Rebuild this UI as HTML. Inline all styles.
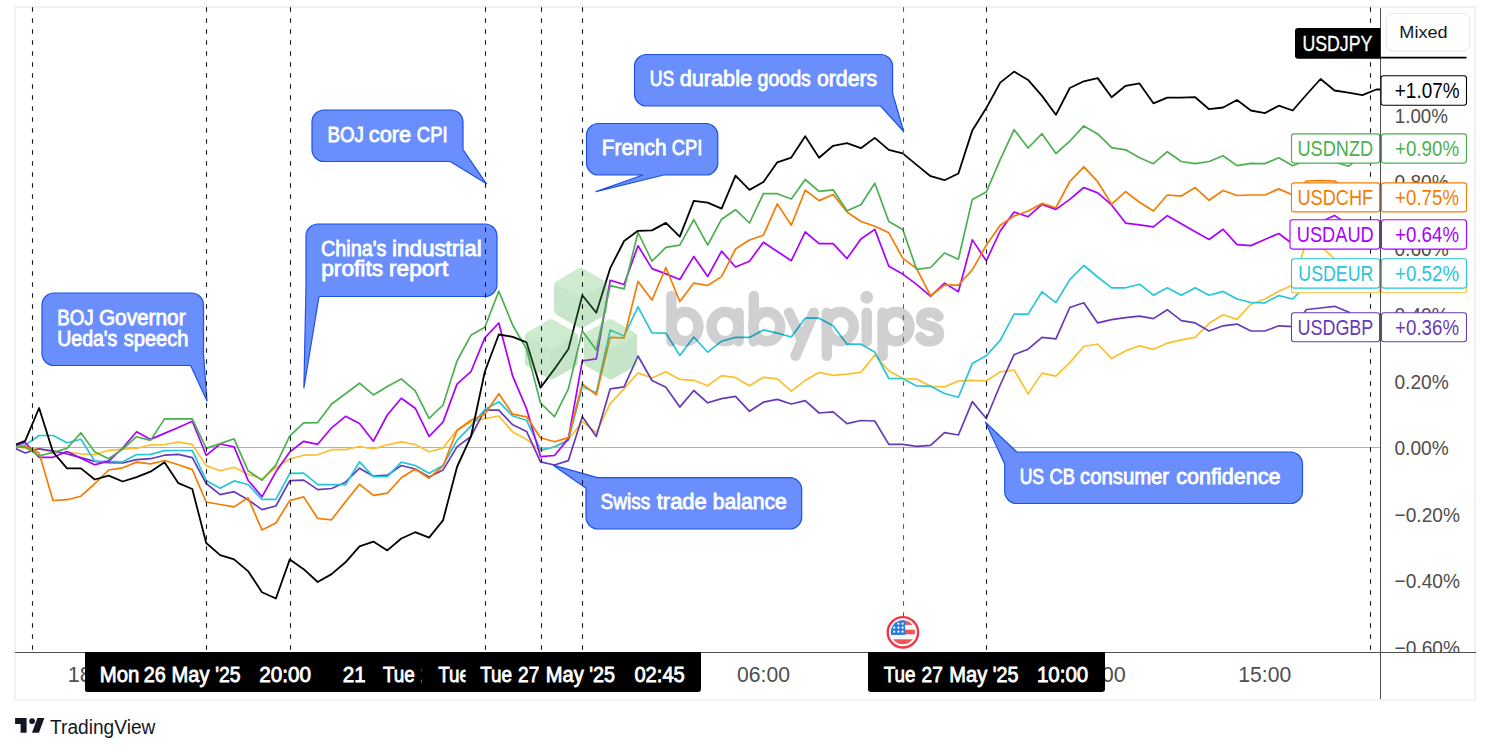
<!DOCTYPE html><html><head><meta charset="utf-8"><style>html,body{margin:0;padding:0;background:#fff;width:1491px;height:753px;overflow:hidden}svg{display:block}text{font-family:"Liberation Sans",sans-serif}</style></head><body>
<svg width="1491" height="753" viewBox="0 0 1491 753">
<defs><clipPath id="pane"><rect x="16" y="8" width="1364" height="644"/></clipPath><clipPath id="c2"><rect x="0" y="0" width="365.5" height="753"/></clipPath><clipPath id="c3"><rect x="0" y="0" width="421.6" height="753"/></clipPath><clipPath id="c4"><rect x="0" y="0" width="465.5" height="753"/></clipPath><clipPath id="c60"><rect x="1381" y="600" width="95" height="52"/></clipPath></defs>
<rect x="14" y="6" width="1462" height="695" fill="#f2f2f2"/>
<rect x="16" y="8" width="1458" height="691" fill="#ffffff"/>
<line x1="16" y1="447.5" x2="1380" y2="447.5" stroke="#aeb1c2" stroke-width="1"/>
<g clip-path="url(#pane)" fill="none" stroke-linejoin="round" stroke-linecap="round">
<polyline points="11.2,446.5 25.2,447.8 39.1,448.8 53.0,452.8 67.0,452.0 80.9,453.8 94.8,454.6 108.7,450.3 122.7,449.1 136.6,448.5 150.5,444.8 164.5,444.5 178.4,442.2 192.3,444.4 206.2,465.6 220.2,470.8 234.1,467.3 248.0,474.2 262.0,479.0 275.9,467.5 289.8,459.0 303.7,455.2 317.7,454.8 331.6,449.7 345.5,449.7 359.5,446.5 373.4,449.0 387.3,444.8 401.3,441.8 415.2,444.5 429.1,451.8 443.0,448.0 457.0,430.0 470.9,422.1 484.8,418.7 498.8,416.0 512.7,432.0 526.6,439.4 540.5,451.3 554.5,446.6 568.4,439.6 582.3,421.7 596.3,432.6 610.2,403.7 624.1,388.8 638.0,372.9 652.0,378.0 665.9,371.8 679.8,379.4 693.8,380.3 707.7,385.8 721.6,375.6 735.5,377.7 749.5,385.8 763.4,377.3 777.3,378.8 791.3,391.2 805.2,380.3 819.1,372.4 833.1,375.3 847.0,374.2 860.9,372.4 874.8,355.0 888.8,370.8 902.7,378.5 916.6,379.1 930.6,386.3 944.5,386.8 958.4,381.1 972.3,380.3 986.3,381.0 1000.2,371.9 1014.1,370.0 1028.1,393.9 1042.0,373.1 1055.9,376.2 1069.8,362.6 1083.8,346.5 1097.7,344.0 1111.6,358.6 1125.6,350.9 1139.5,345.8 1153.4,349.4 1167.3,343.1 1181.3,339.9 1195.2,337.3 1209.1,323.3 1223.1,314.8 1237.0,319.4 1250.9,304.2 1264.9,299.0 1278.8,291.3 1292.7,284.9 1306.6,241.0 1320.6,246.0 1334.5,259.0 1348.4,268.0 1362.4,274.0 1376.3,278.0 1390.0,278.0" stroke="#fbc02d" stroke-width="1.7"/>
<polyline points="11.2,446.5 25.2,453.0 39.1,448.8 53.0,450.8 67.0,454.0 80.9,457.6 94.8,461.4 108.7,462.6 122.7,463.0 136.6,459.6 150.5,458.7 164.5,455.2 178.4,454.4 192.3,457.6 206.2,483.5 220.2,494.6 234.1,491.7 248.0,499.7 262.0,509.6 275.9,506.0 289.8,480.6 303.7,480.1 317.7,489.6 331.6,488.5 345.5,482.2 359.5,468.2 373.4,476.2 387.3,475.2 401.3,465.5 415.2,469.0 429.1,477.0 443.0,470.1 457.0,446.9 470.9,436.5 484.8,410.2 498.8,410.2 512.7,424.8 526.6,431.4 540.5,461.8 554.5,465.0 568.4,460.6 582.3,416.7 596.3,436.6 610.2,388.8 624.1,386.8 638.0,356.0 652.0,380.5 665.9,387.3 679.8,407.1 693.8,390.5 707.7,402.8 721.6,398.6 735.5,396.4 749.5,411.3 763.4,402.2 777.3,399.4 791.3,404.0 805.2,400.6 819.1,413.0 833.1,411.9 847.0,423.6 860.9,420.5 874.8,421.0 888.8,444.4 902.7,444.4 916.6,446.3 930.6,445.4 944.5,432.6 958.4,435.0 972.3,401.6 986.3,418.5 1000.2,385.0 1014.1,354.7 1028.1,349.2 1042.0,337.3 1055.9,338.9 1069.8,307.5 1083.8,302.7 1097.7,322.9 1111.6,319.7 1125.6,317.6 1139.5,316.1 1153.4,318.6 1167.3,309.7 1181.3,320.7 1195.2,322.9 1209.1,331.0 1223.1,325.8 1237.0,324.1 1250.9,331.0 1264.9,331.0 1278.8,325.8 1292.7,326.6 1306.6,309.5 1320.6,308.0 1334.5,306.3 1348.4,312.0 1362.4,322.0 1376.3,326.8 1390.0,326.8" stroke="#673ab7" stroke-width="1.7"/>
<polyline points="11.2,446.5 25.2,445.0 39.1,435.5 53.0,435.5 67.0,442.8 80.9,439.2 94.8,461.3 108.7,461.3 122.7,461.8 136.6,454.6 150.5,454.4 164.5,450.6 178.4,450.5 192.3,450.7 206.2,480.4 220.2,488.2 234.1,480.9 248.0,484.5 262.0,499.4 275.9,499.4 289.8,473.4 303.7,473.2 317.7,484.7 331.6,484.7 345.5,484.7 359.5,461.8 373.4,476.6 387.3,476.6 401.3,462.2 415.2,465.5 429.1,473.2 443.0,465.5 457.0,440.3 470.9,426.1 484.8,409.6 498.8,401.7 512.7,416.0 526.6,420.3 540.5,449.8 554.5,447.0 568.4,440.6 582.3,386.8 596.3,392.8 610.2,330.0 624.1,336.0 638.0,306.8 652.0,333.0 665.9,333.2 679.8,355.4 693.8,337.0 707.7,352.2 721.6,341.2 735.5,337.4 749.5,337.4 763.4,329.9 777.3,333.1 791.3,337.0 805.2,318.2 819.1,318.2 833.1,325.7 847.0,344.2 860.9,344.2 874.8,352.1 888.8,378.5 902.7,378.5 916.6,386.0 930.6,386.2 944.5,393.5 958.4,397.3 972.3,363.6 986.3,355.7 1000.2,340.4 1014.1,314.1 1028.1,314.1 1042.0,291.8 1055.9,302.6 1069.8,279.6 1083.8,265.5 1097.7,277.0 1111.6,287.8 1125.6,287.8 1139.5,284.2 1153.4,295.2 1167.3,287.8 1181.3,295.2 1195.2,287.8 1209.1,295.2 1223.1,291.4 1237.0,299.0 1250.9,302.5 1264.9,302.8 1278.8,295.6 1292.7,299.0 1306.6,285.0 1320.6,280.0 1334.5,276.0 1348.4,275.0 1362.4,274.0 1376.3,273.6 1390.0,273.6" stroke="#26c6da" stroke-width="1.7"/>
<polyline points="11.2,446.5 25.2,442.5 39.1,457.3 53.0,457.3 67.0,451.5 80.9,458.2 94.8,464.7 108.7,461.1 122.7,448.0 136.6,431.8 150.5,439.4 164.5,433.4 178.4,427.5 192.3,421.3 206.2,455.3 220.2,444.0 234.1,446.8 248.0,480.2 262.0,496.8 275.9,471.8 289.8,451.9 303.7,441.3 317.7,444.3 331.6,427.8 345.5,416.3 359.5,423.5 373.4,441.2 387.3,415.0 401.3,398.3 415.2,408.2 429.1,436.3 443.0,422.1 457.0,384.1 470.9,371.7 484.8,337.9 498.8,323.0 512.7,376.2 526.6,408.9 540.5,456.6 554.5,455.5 568.4,438.6 582.3,360.9 596.3,358.9 610.2,280.3 624.1,284.5 638.0,245.7 652.0,268.6 665.9,273.9 679.8,279.5 693.8,256.4 707.7,276.6 721.6,251.1 735.5,267.0 749.5,261.3 763.4,242.2 777.3,251.5 791.3,260.7 805.2,232.0 819.1,243.7 833.1,243.7 847.0,258.6 860.9,239.0 874.8,229.4 888.8,266.2 902.7,274.1 916.6,284.4 930.6,296.3 944.5,283.1 958.4,291.7 972.3,239.9 986.3,260.8 1000.2,231.0 1014.1,212.0 1028.1,216.7 1042.0,204.4 1055.9,209.4 1069.8,199.4 1083.8,187.5 1097.7,192.9 1111.6,204.9 1125.6,223.1 1139.5,224.9 1153.4,226.8 1167.3,215.7 1181.3,223.7 1195.2,231.7 1209.1,239.5 1223.1,229.3 1237.0,244.6 1250.9,245.6 1264.9,239.5 1278.8,233.5 1292.7,244.0 1306.6,230.0 1320.6,222.0 1334.5,215.4 1348.4,225.0 1362.4,232.0 1376.3,233.7 1390.0,233.7" stroke="#aa00ff" stroke-width="1.7"/>
<polyline points="11.2,446.5 25.2,446.0 39.1,453.0 53.0,500.5 67.0,499.7 80.9,496.2 94.8,483.7 108.7,470.0 122.7,467.8 136.6,462.1 150.5,463.8 164.5,460.5 178.4,464.7 192.3,469.6 206.2,502.0 220.2,504.5 234.1,506.9 248.0,497.8 262.0,530.0 275.9,523.0 289.8,500.5 303.7,496.9 317.7,518.5 331.6,519.8 345.5,501.7 359.5,484.3 373.4,495.3 387.3,493.2 401.3,477.8 415.2,469.0 429.1,478.2 443.0,466.0 457.0,430.5 470.9,420.3 484.8,414.2 498.8,393.7 512.7,414.2 526.6,416.8 540.5,437.8 554.5,441.8 568.4,437.6 582.3,383.8 596.3,394.8 610.2,337.3 624.1,337.8 638.0,281.4 652.0,300.0 665.9,267.5 679.8,301.5 693.8,283.1 707.7,285.5 721.6,276.6 735.5,249.0 749.5,240.0 763.4,235.2 777.3,203.9 791.3,225.2 805.2,190.2 819.1,200.6 833.1,194.5 847.0,212.0 860.9,221.5 874.8,226.3 888.8,232.8 902.7,258.1 916.6,268.6 930.6,295.9 944.5,285.0 958.4,285.1 972.3,269.8 986.3,245.2 1000.2,225.3 1014.1,216.0 1028.1,211.0 1042.0,203.4 1055.9,207.7 1069.8,181.5 1083.8,166.8 1097.7,181.7 1111.6,204.1 1125.6,191.6 1139.5,202.2 1153.4,211.0 1167.3,195.0 1181.3,196.1 1195.2,187.6 1209.1,200.3 1223.1,190.5 1237.0,195.5 1250.9,195.0 1264.9,195.0 1278.8,188.9 1292.7,195.0 1306.6,181.0 1320.6,180.5 1334.5,181.0 1348.4,190.0 1362.4,195.0 1376.3,197.1 1390.0,197.1" stroke="#f57c00" stroke-width="1.7"/>
<polyline points="11.2,446.5 25.2,447.3 39.1,455.8 53.0,452.5 67.0,448.4 80.9,432.8 94.8,452.0 108.7,458.8 122.7,449.0 136.6,436.7 150.5,440.4 164.5,418.9 178.4,418.9 192.3,418.9 206.2,448.4 220.2,443.6 234.1,438.8 248.0,470.7 262.0,480.2 275.9,464.9 289.8,435.9 303.7,422.8 317.7,422.6 331.6,404.0 345.5,393.8 359.5,383.2 373.4,394.9 387.3,386.6 401.3,378.9 415.2,390.8 429.1,418.3 443.0,405.0 457.0,361.0 470.9,335.3 484.8,327.3 498.8,291.2 512.7,325.2 526.6,349.1 540.5,403.0 554.5,416.7 568.4,388.8 582.3,331.0 596.3,350.0 610.2,285.6 624.1,288.8 638.0,232.5 652.0,261.2 665.9,247.4 679.8,245.2 693.8,219.7 707.7,245.1 721.6,219.2 735.5,209.7 749.5,223.0 763.4,193.7 777.3,193.7 791.3,199.0 805.2,179.5 819.1,191.4 833.1,189.8 847.0,210.8 860.9,204.8 874.8,183.3 888.8,221.5 902.7,229.4 916.6,269.3 930.6,267.5 944.5,253.0 958.4,259.2 972.3,199.4 986.3,192.1 1000.2,159.6 1014.1,129.7 1028.1,148.0 1042.0,133.7 1055.9,153.6 1069.8,141.2 1083.8,125.9 1097.7,133.9 1111.6,147.7 1125.6,149.8 1139.5,157.8 1153.4,163.7 1167.3,151.7 1181.3,161.5 1195.2,163.7 1209.1,161.5 1223.1,155.7 1237.0,165.6 1250.9,163.4 1264.9,163.6 1278.8,157.8 1292.7,165.7 1306.6,160.0 1320.6,160.0 1334.5,162.0 1348.4,166.3 1362.4,155.0 1376.3,147.3 1390.0,147.3" stroke="#4caf50" stroke-width="1.7"/>
<polyline points="11.2,446.5 25.2,440.9 39.1,408.0 53.0,452.0 67.0,468.4 80.9,468.4 94.8,479.5 108.7,475.6 122.7,481.5 136.6,477.1 150.5,471.7 164.5,462.3 178.4,483.2 192.3,489.0 206.2,543.0 220.2,555.1 234.1,559.4 248.0,571.1 262.0,592.3 275.9,598.5 289.8,559.4 303.7,569.2 317.7,582.0 331.6,574.1 345.5,562.3 359.5,546.3 373.4,541.6 387.3,550.4 401.3,538.5 415.2,532.2 429.1,537.6 443.0,520.4 457.0,467.0 470.9,436.7 484.8,371.7 498.8,334.5 512.7,336.8 526.6,342.4 540.5,387.7 554.5,368.9 568.4,349.1 582.3,295.2 596.3,312.8 610.2,268.2 624.1,241.0 638.0,230.8 652.0,230.4 665.9,222.9 679.8,236.7 693.8,200.9 707.7,202.7 721.6,208.6 735.5,175.7 749.5,189.9 763.4,182.0 777.3,162.3 791.3,157.6 805.2,136.3 819.1,157.7 833.1,145.8 847.0,143.2 860.9,148.2 874.8,137.9 888.8,149.9 902.7,153.4 916.6,164.9 930.6,176.2 944.5,180.2 958.4,173.5 972.3,130.4 986.3,108.1 1000.2,82.6 1014.1,71.6 1028.1,79.9 1042.0,95.9 1055.9,114.8 1069.8,88.0 1083.8,81.3 1097.7,78.1 1111.6,97.2 1125.6,85.8 1139.5,83.4 1153.4,103.3 1167.3,97.7 1181.3,97.7 1195.2,97.2 1209.1,109.2 1223.1,107.5 1237.0,100.0 1250.9,110.5 1264.9,113.1 1278.8,105.7 1292.7,110.5 1306.6,94.5 1320.6,79.0 1334.5,90.5 1348.4,92.7 1362.4,95.1 1376.3,89.5 1390.0,89.5" stroke="#000000" stroke-width="1.8"/>
</g>
<g opacity="0.3"><clipPath id="hx1"><path d="M578.20,268.84 A5.00,5.00 0 0 1 583.20,268.84 L604.87,281.36 A5.00,5.00 0 0 1 607.37,285.69 L607.37,310.71 A5.00,5.00 0 0 1 604.87,315.04 L583.20,327.56 A5.00,5.00 0 0 1 578.20,327.56 L556.53,315.04 A5.00,5.00 0 0 1 554.03,310.71 L554.03,285.69 A5.00,5.00 0 0 1 556.53,281.36 Z"/></clipPath><g clip-path="url(#hx1)"><path d="M578.20,268.84 A5.00,5.00 0 0 1 583.20,268.84 L604.87,281.36 A5.00,5.00 0 0 1 607.37,285.69 L607.37,310.71 A5.00,5.00 0 0 1 604.87,315.04 L583.20,327.56 A5.00,5.00 0 0 1 578.20,327.56 L556.53,315.04 A5.00,5.00 0 0 1 554.03,310.71 L554.03,285.69 A5.00,5.00 0 0 1 556.53,281.36 Z" fill="#4caf50"/><polygon points="580.7,236.6 634.0,267.4 580.7,298.2 527.4,267.4" fill="#60bf63"/><polygon points="580.7,298.2 634.0,267.4 634.0,329.0 580.7,359.8" fill="#46a84a"/></g><clipPath id="hx2"><path d="M548.70,320.04 A5.00,5.00 0 0 1 553.70,320.04 L575.37,332.56 A5.00,5.00 0 0 1 577.87,336.89 L577.87,361.91 A5.00,5.00 0 0 1 575.37,366.24 L553.70,378.76 A5.00,5.00 0 0 1 548.70,378.76 L527.03,366.24 A5.00,5.00 0 0 1 524.53,361.91 L524.53,336.89 A5.00,5.00 0 0 1 527.03,332.56 Z"/></clipPath><g clip-path="url(#hx2)"><path d="M548.70,320.04 A5.00,5.00 0 0 1 553.70,320.04 L575.37,332.56 A5.00,5.00 0 0 1 577.87,336.89 L577.87,361.91 A5.00,5.00 0 0 1 575.37,366.24 L553.70,378.76 A5.00,5.00 0 0 1 548.70,378.76 L527.03,366.24 A5.00,5.00 0 0 1 524.53,361.91 L524.53,336.89 A5.00,5.00 0 0 1 527.03,332.56 Z" fill="#4caf50"/><polygon points="551.2,287.8 604.5,318.6 551.2,349.4 497.9,318.6" fill="#60bf63"/><polygon points="551.2,349.4 604.5,318.6 604.5,380.2 551.2,411.0" fill="#46a84a"/></g><clipPath id="hx3"><path d="M607.90,320.04 A5.00,5.00 0 0 1 612.90,320.04 L634.57,332.56 A5.00,5.00 0 0 1 637.07,336.89 L637.07,361.91 A5.00,5.00 0 0 1 634.57,366.24 L612.90,378.76 A5.00,5.00 0 0 1 607.90,378.76 L586.23,366.24 A5.00,5.00 0 0 1 583.73,361.91 L583.73,336.89 A5.00,5.00 0 0 1 586.23,332.56 Z"/></clipPath><g clip-path="url(#hx3)"><path d="M607.90,320.04 A5.00,5.00 0 0 1 612.90,320.04 L634.57,332.56 A5.00,5.00 0 0 1 637.07,336.89 L637.07,361.91 A5.00,5.00 0 0 1 634.57,366.24 L612.90,378.76 A5.00,5.00 0 0 1 607.90,378.76 L586.23,366.24 A5.00,5.00 0 0 1 583.73,361.91 L583.73,336.89 A5.00,5.00 0 0 1 586.23,332.56 Z" fill="#4caf50"/><polygon points="610.4,287.8 663.7,318.6 610.4,349.4 557.1,318.6" fill="#60bf63"/><polygon points="610.4,349.4 663.7,318.6 663.7,380.2 610.4,411.0" fill="#46a84a"/></g></g>
<g opacity="0.18" stroke="#000010" stroke-width="10.4" stroke-linecap="round" fill="none"><path d="M671.4,296 V341.3 M738.6,312.6 V341.3 M753.8,296 V341.3 M789,312.6 L801,338 M813.8,312.6 L795.5,355.7 M826.8,312.6 V355.7 M866.7,312.6 V341.3 M882.6,312.6 V355.7 M938.5,316.5 C936.5,313.5 933,312.5 929.5,312.5 C924.5,312.5 921,315 921,319 C921,323.5 925,325 930,326 C935,327 939,329 939,334 C939,338.5 935,341.4 929.5,341.4 C925,341.4 922,339.5 920.5,337"/><ellipse cx="685" cy="326.6" rx="13.5" ry="14.7"/><ellipse cx="725" cy="326.6" rx="13.5" ry="14.7"/><ellipse cx="766.8" cy="326.6" rx="13.5" ry="14.7"/><ellipse cx="840.3" cy="326.6" rx="13.5" ry="14.7"/><ellipse cx="896" cy="326.6" rx="13.5" ry="14.7"/><circle cx="866.7" cy="297.2" r="6.4" fill="#000010" stroke="none"/></g>
<path d="M54,293 H191.5 A12,12 0 0 1 203.5,305 V354 L207,401 L190.6,365.5 H54 A12,12 0 0 1 42,353.5 V305 A12,12 0 0 1 54,293 Z" fill="#6a8ffd" stroke="#1c52e6" stroke-width="1.2" stroke-linejoin="round"/>
<text x="57.22" y="324.60" font-size="21.3" fill="#ffffff" stroke="#ffffff" stroke-width="0.8" textLength="36.43" lengthAdjust="spacingAndGlyphs">BOJ</text>
<text x="98.92" y="324.60" font-size="21.3" fill="#ffffff" stroke="#ffffff" stroke-width="0.8" textLength="86.66" lengthAdjust="spacingAndGlyphs">Governor</text>
<text x="57.18" y="345.80" font-size="21.3" fill="#ffffff" stroke="#ffffff" stroke-width="0.8" textLength="60.20" lengthAdjust="spacingAndGlyphs">Ueda's</text>
<text x="123.80" y="345.80" font-size="21.3" fill="#ffffff" stroke="#ffffff" stroke-width="0.8" textLength="64.55" lengthAdjust="spacingAndGlyphs">speech</text>
<path d="M318,224 H485 A12,12 0 0 1 497,236 V284.5 A12,12 0 0 1 485,296.5 H319 L303.9,387.8 L306,285.7 V236 A12,12 0 0 1 318,224 Z" fill="#6a8ffd" stroke="#1c52e6" stroke-width="1.2" stroke-linejoin="round"/>
<text x="321.07" y="255.60" font-size="21.3" fill="#ffffff" stroke="#ffffff" stroke-width="0.8" textLength="65.26" lengthAdjust="spacingAndGlyphs">China's</text>
<text x="391.95" y="255.60" font-size="21.3" fill="#ffffff" stroke="#ffffff" stroke-width="0.8" textLength="89.86" lengthAdjust="spacingAndGlyphs">industrial</text>
<text x="321.23" y="276.40" font-size="21.3" fill="#ffffff" stroke="#ffffff" stroke-width="0.8" textLength="61.87" lengthAdjust="spacingAndGlyphs">profits</text>
<text x="389.04" y="276.40" font-size="21.3" fill="#ffffff" stroke="#ffffff" stroke-width="0.8" textLength="59.18" lengthAdjust="spacingAndGlyphs">report</text>
<path d="M324,110 H451 A12,12 0 0 1 463,122 V149.6 L486.5,183.8 L450.2,161.5 H324 A12,12 0 0 1 312,149.5 V122 A12,12 0 0 1 324,110 Z" fill="#6a8ffd" stroke="#1c52e6" stroke-width="1.2" stroke-linejoin="round"/>
<text x="327.42" y="142.00" font-size="21.3" fill="#ffffff" stroke="#ffffff" stroke-width="0.8" textLength="36.54" lengthAdjust="spacingAndGlyphs">BOJ</text>
<text x="368.78" y="142.00" font-size="21.3" fill="#ffffff" stroke="#ffffff" stroke-width="0.8" textLength="42.27" lengthAdjust="spacingAndGlyphs">core</text>
<text x="416.83" y="142.00" font-size="21.3" fill="#ffffff" stroke="#ffffff" stroke-width="0.8" textLength="30.78" lengthAdjust="spacingAndGlyphs">CPI</text>
<path d="M598.5,123.5 H705.8 A12,12 0 0 1 717.8,135.5 V163 A12,12 0 0 1 705.8,175 H663.8 L596,191.6 L642.9,175 H598.5 A12,12 0 0 1 586.5,163 V135.5 A12,12 0 0 1 598.5,123.5 Z" fill="#6a8ffd" stroke="#1c52e6" stroke-width="1.2" stroke-linejoin="round"/>
<text x="601.82" y="155.10" font-size="21.3" fill="#ffffff" stroke="#ffffff" stroke-width="0.8" textLength="64.64" lengthAdjust="spacingAndGlyphs">French</text>
<text x="671.64" y="155.10" font-size="21.3" fill="#ffffff" stroke="#ffffff" stroke-width="0.8" textLength="30.67" lengthAdjust="spacingAndGlyphs">CPI</text>
<path d="M646.5,54.5 H880.6 A12,12 0 0 1 892.6,66.5 V93.3 L903.7,131.5 L880.6,106 H646.5 A12,12 0 0 1 634.5,94 V66.5 A12,12 0 0 1 646.5,54.5 Z" fill="#6a8ffd" stroke="#1c52e6" stroke-width="1.2" stroke-linejoin="round"/>
<text x="649.77" y="85.90" font-size="21.3" fill="#ffffff" stroke="#ffffff" stroke-width="0.8" textLength="24.41" lengthAdjust="spacingAndGlyphs">US</text>
<text x="679.68" y="85.90" font-size="21.3" fill="#ffffff" stroke="#ffffff" stroke-width="0.8" textLength="72.37" lengthAdjust="spacingAndGlyphs">durable</text>
<text x="757.58" y="85.90" font-size="21.3" fill="#ffffff" stroke="#ffffff" stroke-width="0.8" textLength="53.25" lengthAdjust="spacingAndGlyphs">goods</text>
<text x="817.00" y="85.90" font-size="21.3" fill="#ffffff" stroke="#ffffff" stroke-width="0.8" textLength="60.17" lengthAdjust="spacingAndGlyphs">orders</text>
<path d="M597.5,477.6 H789.7 A12,12 0 0 1 801.7,489.6 V517 A12,12 0 0 1 789.7,529 H598 A12,12 0 0 1 586,517 V488.3 L553.2,465.2 Z" fill="#6a8ffd" stroke="#1c52e6" stroke-width="1.2" stroke-linejoin="round"/>
<text x="600.51" y="509.00" font-size="21.3" fill="#ffffff" stroke="#ffffff" stroke-width="0.8" textLength="49.75" lengthAdjust="spacingAndGlyphs">Swiss</text>
<text x="656.70" y="509.00" font-size="21.3" fill="#ffffff" stroke="#ffffff" stroke-width="0.8" textLength="50.17" lengthAdjust="spacingAndGlyphs">trade</text>
<text x="712.71" y="509.00" font-size="21.3" fill="#ffffff" stroke="#ffffff" stroke-width="0.8" textLength="74.00" lengthAdjust="spacingAndGlyphs">balance</text>
<path d="M1016.8,452 H1290.5 A12,12 0 0 1 1302.5,464 V491.5 A12,12 0 0 1 1290.5,503.5 H1016.7 A12,12 0 0 1 1004.7,491.5 V464 L985.4,422.2 Z" fill="#6a8ffd" stroke="#1c52e6" stroke-width="1.2" stroke-linejoin="round"/>
<text x="1019.67" y="483.80" font-size="21.3" fill="#ffffff" stroke="#ffffff" stroke-width="0.8" textLength="24.41" lengthAdjust="spacingAndGlyphs">US</text>
<text x="1049.54" y="483.80" font-size="21.3" fill="#ffffff" stroke="#ffffff" stroke-width="0.8" textLength="25.37" lengthAdjust="spacingAndGlyphs">CB</text>
<text x="1080.05" y="483.80" font-size="21.3" fill="#ffffff" stroke="#ffffff" stroke-width="0.8" textLength="89.09" lengthAdjust="spacingAndGlyphs">consumer</text>
<text x="1176.29" y="483.80" font-size="21.3" fill="#ffffff" stroke="#ffffff" stroke-width="0.8" textLength="104.33" lengthAdjust="spacingAndGlyphs">confidence</text>
<line x1="32.5" y1="7.2" x2="32.5" y2="650" stroke="#131722" stroke-width="1.1" stroke-dasharray="4.6 6.4"/>
<line x1="206.5" y1="7.2" x2="206.5" y2="650" stroke="#131722" stroke-width="1.1" stroke-dasharray="4.6 6.4"/>
<line x1="290.5" y1="7.2" x2="290.5" y2="650" stroke="#131722" stroke-width="1.1" stroke-dasharray="4.6 6.4"/>
<line x1="485.5" y1="7.2" x2="485.5" y2="650" stroke="#131722" stroke-width="1.1" stroke-dasharray="4.6 6.4"/>
<line x1="541.5" y1="7.2" x2="541.5" y2="650" stroke="#131722" stroke-width="1.1" stroke-dasharray="4.6 6.4"/>
<line x1="582.5" y1="7.2" x2="582.5" y2="650" stroke="#131722" stroke-width="1.1" stroke-dasharray="4.6 6.4"/>
<line x1="903.5" y1="7.2" x2="903.5" y2="617" stroke="#5a5a5e" stroke-width="1.1" stroke-dasharray="4.6 6.4"/>
<line x1="986.5" y1="7.2" x2="986.5" y2="650" stroke="#131722" stroke-width="1.1" stroke-dasharray="4.6 6.4"/>
<line x1="1370.5" y1="7.2" x2="1370.5" y2="650" stroke="#131722" stroke-width="1.1" stroke-dasharray="4.6 6.4"/>
<g transform="translate(902.9,632.3)"><circle r="15.2" fill="#ffffff" stroke="#f23645" stroke-width="2.4"/><clipPath id="flagc"><circle r="12"/></clipPath><g clip-path="url(#flagc)"><rect x="-13" y="-13" width="26" height="26" fill="#f6f8fc"/><rect x="-13" y="-12" width="26" height="4.6" fill="#eb5757"/><rect x="-13" y="-2.6" width="26" height="4.6" fill="#eb5757"/><rect x="-13" y="7" width="26" height="6" fill="#eb5757"/><rect x="-13" y="-13" width="15.2" height="15.6" fill="#2a7ae2"/></g><g fill="#ffffff"><circle cx="-4.5" cy="-8.6" r="1.1"/><circle cx="-0.3" cy="-8.6" r="1.1"/><circle cx="-8.7" cy="-4.6" r="1.1"/><circle cx="-4.5" cy="-4.6" r="1.1"/><circle cx="-0.3" cy="-4.6" r="1.1"/><circle cx="-8.7" cy="-0.6" r="1.1"/><circle cx="-4.5" cy="-0.6" r="1.1"/><circle cx="-0.3" cy="-0.6" r="1.1"/></g></g>
<line x1="1380.5" y1="8" x2="1380.5" y2="699" stroke="#4f4f4f" stroke-width="1"/>
<line x1="15" y1="652.5" x2="1476" y2="652.5" stroke="#4f4f4f" stroke-width="1"/>
<text x="1394.81" y="122.75" font-size="21" fill="#4d4d4d" textLength="53.17" lengthAdjust="spacingAndGlyphs">1.00%</text>
<text x="1394.49" y="189.25" font-size="21" fill="#4d4d4d" textLength="54.21" lengthAdjust="spacingAndGlyphs">0.80%</text>
<text x="1394.49" y="255.75" font-size="21" fill="#4d4d4d" textLength="54.21" lengthAdjust="spacingAndGlyphs">0.60%</text>
<text x="1394.49" y="322.25" font-size="21" fill="#4d4d4d" textLength="54.21" lengthAdjust="spacingAndGlyphs">0.40%</text>
<text x="1394.49" y="388.75" font-size="21" fill="#4d4d4d" textLength="54.21" lengthAdjust="spacingAndGlyphs">0.20%</text>
<text x="1394.49" y="455.25" font-size="21" fill="#4d4d4d" textLength="54.21" lengthAdjust="spacingAndGlyphs">0.00%</text>
<text x="1394.59" y="521.75" font-size="21" fill="#4d4d4d" textLength="65.35" lengthAdjust="spacingAndGlyphs">−0.20%</text>
<text x="1394.59" y="588.25" font-size="21" fill="#4d4d4d" textLength="65.35" lengthAdjust="spacingAndGlyphs">−0.40%</text>
<text x="1394.59" y="654.75" font-size="21" fill="#4d4d4d" textLength="65.35" lengthAdjust="spacingAndGlyphs" clip-path="url(#c60)">−0.60%</text>
<text x="67.78" y="681.80" font-size="21.3" fill="#4d4d4d" textLength="53.92" lengthAdjust="spacingAndGlyphs">18:00</text>
<text x="737.01" y="681.80" font-size="21.3" fill="#4d4d4d" textLength="52.89" lengthAdjust="spacingAndGlyphs">06:00</text>
<text x="1071.88" y="681.80" font-size="21.3" fill="#4d4d4d" textLength="53.92" lengthAdjust="spacingAndGlyphs">12:00</text>
<text x="1238.32" y="681.80" font-size="21.3" fill="#4d4d4d" textLength="52.88" lengthAdjust="spacingAndGlyphs">15:00</text>
<path d="M85,652 H701 V689 A3,3 0 0 1 698,692 H88 A3,3 0 0 1 85,689 Z" fill="#000"/>
<path d="M868,652 H1105 V689 A3,3 0 0 1 1102,692 H871 A3,3 0 0 1 868,689 Z" fill="#000"/>
<text x="183.14" y="681.80" font-size="21.3" fill="#ffffff" stroke="#ffffff" stroke-width="0.8" textLength="39.63" lengthAdjust="spacingAndGlyphs" clip-path="url(#c2)">Mon</text>
<text x="227.27" y="681.80" font-size="21.3" fill="#ffffff" stroke="#ffffff" stroke-width="0.8" textLength="21.98" lengthAdjust="spacingAndGlyphs" clip-path="url(#c2)">26</text>
<text x="254.96" y="681.80" font-size="21.3" fill="#ffffff" stroke="#ffffff" stroke-width="0.8" textLength="37.96" lengthAdjust="spacingAndGlyphs" clip-path="url(#c2)">May</text>
<text x="298.59" y="681.80" font-size="21.3" fill="#ffffff" stroke="#ffffff" stroke-width="0.8" textLength="25.31" lengthAdjust="spacingAndGlyphs" clip-path="url(#c2)">'25</text>
<text x="342.63" y="681.80" font-size="21.3" fill="#ffffff" stroke="#ffffff" stroke-width="0.8" textLength="51.86" lengthAdjust="spacingAndGlyphs" clip-path="url(#c2)">21:30</text>
<text x="382.90" y="681.80" font-size="21.3" fill="#ffffff" stroke="#ffffff" stroke-width="0.8" textLength="31.82" lengthAdjust="spacingAndGlyphs" clip-path="url(#c3)">Tue</text>
<text x="420.80" y="681.80" font-size="21.3" fill="#ffffff" stroke="#ffffff" stroke-width="0.8" textLength="21.23" lengthAdjust="spacingAndGlyphs" clip-path="url(#c3)">27</text>
<text x="448.46" y="681.80" font-size="21.3" fill="#ffffff" stroke="#ffffff" stroke-width="0.8" textLength="37.96" lengthAdjust="spacingAndGlyphs" clip-path="url(#c3)">May</text>
<text x="491.97" y="681.80" font-size="21.3" fill="#ffffff" stroke="#ffffff" stroke-width="0.8" textLength="25.74" lengthAdjust="spacingAndGlyphs" clip-path="url(#c3)">'25</text>
<text x="537.10" y="681.80" font-size="21.3" fill="#ffffff" stroke="#ffffff" stroke-width="0.8" textLength="50.38" lengthAdjust="spacingAndGlyphs" clip-path="url(#c3)">01:00</text>
<text x="438.20" y="681.80" font-size="21.3" fill="#ffffff" stroke="#ffffff" stroke-width="0.8" textLength="31.82" lengthAdjust="spacingAndGlyphs" clip-path="url(#c4)">Tue</text>
<text x="476.10" y="681.80" font-size="21.3" fill="#ffffff" stroke="#ffffff" stroke-width="0.8" textLength="21.23" lengthAdjust="spacingAndGlyphs" clip-path="url(#c4)">27</text>
<text x="503.76" y="681.80" font-size="21.3" fill="#ffffff" stroke="#ffffff" stroke-width="0.8" textLength="37.96" lengthAdjust="spacingAndGlyphs" clip-path="url(#c4)">May</text>
<text x="547.27" y="681.80" font-size="21.3" fill="#ffffff" stroke="#ffffff" stroke-width="0.8" textLength="25.74" lengthAdjust="spacingAndGlyphs" clip-path="url(#c4)">'25</text>
<text x="592.40" y="681.80" font-size="21.3" fill="#ffffff" stroke="#ffffff" stroke-width="0.8" textLength="50.38" lengthAdjust="spacingAndGlyphs" clip-path="url(#c4)">02:00</text>
<path d="M85,652 H327 V692 H88 A3,3 0 0 1 85,689 Z" fill="#000"/>
<text x="99.74" y="681.80" font-size="21.3" fill="#ffffff" stroke="#ffffff" stroke-width="0.8" textLength="39.63" lengthAdjust="spacingAndGlyphs">Mon</text>
<text x="143.87" y="681.80" font-size="21.3" fill="#ffffff" stroke="#ffffff" stroke-width="0.8" textLength="21.98" lengthAdjust="spacingAndGlyphs">26</text>
<text x="171.56" y="681.80" font-size="21.3" fill="#ffffff" stroke="#ffffff" stroke-width="0.8" textLength="37.96" lengthAdjust="spacingAndGlyphs">May</text>
<text x="215.19" y="681.80" font-size="21.3" fill="#ffffff" stroke="#ffffff" stroke-width="0.8" textLength="25.31" lengthAdjust="spacingAndGlyphs">'25</text>
<text x="259.23" y="681.80" font-size="21.3" fill="#ffffff" stroke="#ffffff" stroke-width="0.8" textLength="51.86" lengthAdjust="spacingAndGlyphs">20:00</text>
<text x="480.20" y="681.80" font-size="21.3" fill="#ffffff" stroke="#ffffff" stroke-width="0.8" textLength="31.82" lengthAdjust="spacingAndGlyphs">Tue</text>
<text x="518.10" y="681.80" font-size="21.3" fill="#ffffff" stroke="#ffffff" stroke-width="0.8" textLength="21.23" lengthAdjust="spacingAndGlyphs">27</text>
<text x="545.76" y="681.80" font-size="21.3" fill="#ffffff" stroke="#ffffff" stroke-width="0.8" textLength="37.96" lengthAdjust="spacingAndGlyphs">May</text>
<text x="589.27" y="681.80" font-size="21.3" fill="#ffffff" stroke="#ffffff" stroke-width="0.8" textLength="25.74" lengthAdjust="spacingAndGlyphs">'25</text>
<text x="634.40" y="681.80" font-size="21.3" fill="#ffffff" stroke="#ffffff" stroke-width="0.8" textLength="50.38" lengthAdjust="spacingAndGlyphs">02:45</text>
<text x="883.70" y="681.80" font-size="21.3" fill="#ffffff" stroke="#ffffff" stroke-width="0.8" textLength="31.82" lengthAdjust="spacingAndGlyphs">Tue</text>
<text x="921.60" y="681.80" font-size="21.3" fill="#ffffff" stroke="#ffffff" stroke-width="0.8" textLength="21.23" lengthAdjust="spacingAndGlyphs">27</text>
<text x="949.26" y="681.80" font-size="21.3" fill="#ffffff" stroke="#ffffff" stroke-width="0.8" textLength="37.96" lengthAdjust="spacingAndGlyphs">May</text>
<text x="992.77" y="681.80" font-size="21.3" fill="#ffffff" stroke="#ffffff" stroke-width="0.8" textLength="25.74" lengthAdjust="spacingAndGlyphs">'25</text>
<text x="1036.94" y="681.80" font-size="21.3" fill="#ffffff" stroke="#ffffff" stroke-width="0.8" textLength="51.35" lengthAdjust="spacingAndGlyphs">10:00</text>
<path d="M1298,28 H1380.5 V58.7 H1298 A3,3 0 0 1 1295,55.7 V31 A3,3 0 0 1 1298,28 Z" fill="#000"/>
<text x="1302.47" y="51.00" font-size="21.3" fill="#ffffff" stroke="#ffffff" stroke-width="0.3" textLength="69.89" lengthAdjust="spacingAndGlyphs">USDJPY</text>
<line x1="1380" y1="57.6" x2="1466.5" y2="57.6" stroke="#000" stroke-width="1.6"/>
<rect x="1386.2" y="13.5" width="83.5" height="37.5" rx="6" fill="#fff" stroke="#e6e6e6" stroke-width="1"/>
<text x="1399.36" y="37.70" font-size="17.4" fill="#131722" textLength="48.18" lengthAdjust="spacingAndGlyphs">Mixed</text>
<rect x="1381" y="75.8" width="85.5" height="29.5" rx="2.5" fill="#fff" stroke="#000" stroke-width="1.1"/>
<text x="1394.81" y="97.90" font-size="21.3" fill="#000000" textLength="64.72" lengthAdjust="spacingAndGlyphs">+1.07%</text>
<rect x="1291.5" y="133.9" width="88.1" height="29.2" rx="2.5" fill="#fff" stroke="#4caf50" stroke-width="1.1"/>
<rect x="1381.5" y="133.9" width="85" height="29.2" rx="2.5" fill="#fff" stroke="#4caf50" stroke-width="1.1"/>
<text x="1297.50" y="155.85" font-size="21.3" fill="#4caf50" textLength="75.63" lengthAdjust="spacingAndGlyphs">USDNZD</text>
<text x="1395.12" y="155.85" font-size="21.3" fill="#4caf50" textLength="63.90" lengthAdjust="spacingAndGlyphs">+0.90%</text>
<rect x="1291.5" y="182.9" width="88.1" height="29.0" rx="2.5" fill="#fff" stroke="#f57c00" stroke-width="1.1"/>
<rect x="1381.5" y="182.9" width="85" height="29.0" rx="2.5" fill="#fff" stroke="#f57c00" stroke-width="1.1"/>
<text x="1297.50" y="204.75" font-size="21.3" fill="#f57c00" textLength="75.63" lengthAdjust="spacingAndGlyphs">USDCHF</text>
<text x="1395.12" y="204.75" font-size="21.3" fill="#f57c00" textLength="63.90" lengthAdjust="spacingAndGlyphs">+0.75%</text>
<rect x="1290.0" y="219.8" width="89.6" height="29.3" rx="2.5" fill="#fff" stroke="#aa00ff" stroke-width="1.1"/>
<rect x="1381.5" y="219.8" width="85" height="29.3" rx="2.5" fill="#fff" stroke="#aa00ff" stroke-width="1.1"/>
<text x="1296.74" y="241.80" font-size="21.3" fill="#aa00ff" textLength="77.07" lengthAdjust="spacingAndGlyphs">USDAUD</text>
<text x="1395.12" y="241.80" font-size="21.3" fill="#aa00ff" textLength="63.90" lengthAdjust="spacingAndGlyphs">+0.64%</text>
<rect x="1291.5" y="263.5" width="88.1" height="29.3" rx="2.5" fill="#fff" stroke="#fbc02d" stroke-width="1.1"/>
<rect x="1381.5" y="263.5" width="85" height="29.3" rx="2.5" fill="#fff" stroke="#fbc02d" stroke-width="1.1"/>
<text x="1297.51" y="285.50" font-size="21.3" fill="#fbc02d" textLength="75.77" lengthAdjust="spacingAndGlyphs">USDCAD</text>
<text x="1395.12" y="285.50" font-size="21.3" fill="#fbc02d" textLength="63.90" lengthAdjust="spacingAndGlyphs">+0.51%</text>
<rect x="1291.5" y="258.7" width="88.1" height="29.4" rx="2.5" fill="#fff" stroke="#26c6da" stroke-width="1.1"/>
<rect x="1381.5" y="258.7" width="85" height="29.4" rx="2.5" fill="#fff" stroke="#26c6da" stroke-width="1.1"/>
<text x="1298.33" y="280.75" font-size="21.3" fill="#26c6da" textLength="74.95" lengthAdjust="spacingAndGlyphs">USDEUR</text>
<text x="1395.12" y="280.75" font-size="21.3" fill="#26c6da" textLength="63.90" lengthAdjust="spacingAndGlyphs">+0.52%</text>
<rect x="1291.5" y="312.7" width="88.1" height="29.0" rx="2.5" fill="#fff" stroke="#673ab7" stroke-width="1.1"/>
<rect x="1381.5" y="312.7" width="85" height="29.0" rx="2.5" fill="#fff" stroke="#673ab7" stroke-width="1.1"/>
<text x="1297.51" y="334.55" font-size="21.3" fill="#673ab7" textLength="75.79" lengthAdjust="spacingAndGlyphs">USDGBP</text>
<text x="1395.12" y="334.55" font-size="21.3" fill="#673ab7" textLength="63.90" lengthAdjust="spacingAndGlyphs">+0.36%</text>
<g fill="#131722"><path d="M15.1,718.1 H26.6 V732.8 H20.6 V724.1 H15.1 Z"/><circle cx="32.1" cy="721.1" r="2.9"/><path d="M37.4,718.1 H44.4 L38.9,732.8 H32 Z"/></g>
<text x="50.10" y="733.60" font-size="19.5" fill="#131722" textLength="105.31" lengthAdjust="spacingAndGlyphs">TradingView</text>
</svg></body></html>
